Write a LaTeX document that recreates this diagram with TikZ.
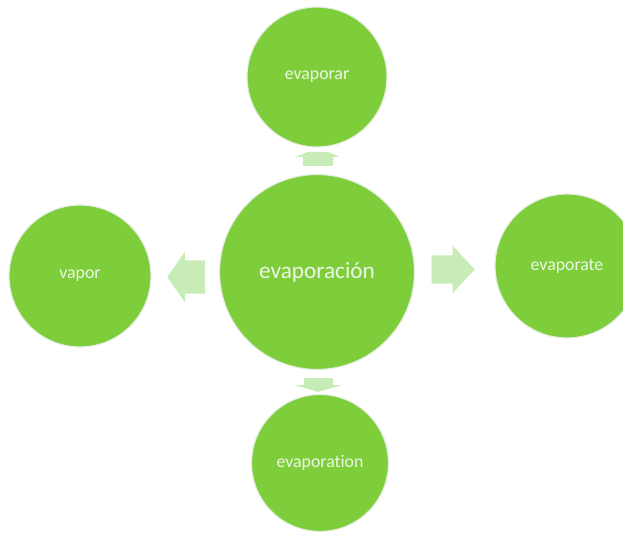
\documentclass[tikz,border=0pt]{standalone}
\usepackage{fontspec}
\setmainfont{Carlito}[Ligatures=NoCommon]
\definecolor{LeafGreen}{RGB}{126, 206, 60}
\definecolor{PaleGreen}{RGB}{200, 236, 182}
\definecolor{SoftWhite}{RGB}{236, 246, 228}
\definecolor{RimGray}{RGB}{230, 238, 226}
\usetikzlibrary{shapes.arrows}

\begin{document}
\begin{tikzpicture}[x=1pt, y=1pt,
    bubble/.style={circle, fill=LeafGreen, draw=RimGray, line width=1.2pt,
        inner sep=0pt, text=SoftWhite, font=\fontsize{17.8}{20}\selectfont},
    blockarrow/.style={single arrow, fill=PaleGreen, draw=none, inner xsep=0pt,
        single arrow head indent=0pt}]
    \useasboundingbox (0, 0) rectangle (623, 533);

    % block arrows
    \node[blockarrow, shape border rotate=180, anchor=tip, minimum height=38pt, minimum width=51pt,
        inner ysep=16.5pt, single arrow head extend=9pt, single arrow tip angle=110] (toVapor) at (167, 256) {};
    \node[blockarrow, anchor=tip, minimum height=43pt, minimum width=47pt,
        inner ysep=14pt, single arrow head extend=9.5pt, single arrow tip angle=94] (toEvaporate) at (475, 263.5) {};
    % short ones, flat heads
    \fill[PaleGreen] (303, 367) -- (333, 367) -- (333, 376) -- (340, 376) -- (328, 381)
        -- (308, 381) -- (295, 376) -- (303, 376) -- cycle;
    \fill[PaleGreen] (304, 155) -- (333, 155) -- (333, 148) -- (342, 148) -- (318, 141)
        -- (295, 148) -- (304, 148) -- cycle;

    % circles
    \node[bubble, minimum size=195pt, font=\fontsize{23.3}{26}\selectfont] (main) at (317, 261) {evaporación};
    \node[bubble, minimum size=140pt] (evaporar) at (317, 456) {evaporar};
    \node[bubble, minimum size=142pt] (vapor) at (80, 257) {vapor};
    \node[bubble, minimum size=144pt] (evaporate) at (567, 267) {evaporate};
    \node[bubble, minimum size=137pt] (evaporation) at (320, 70) {evaporation};
\end{tikzpicture}
\end{document}
